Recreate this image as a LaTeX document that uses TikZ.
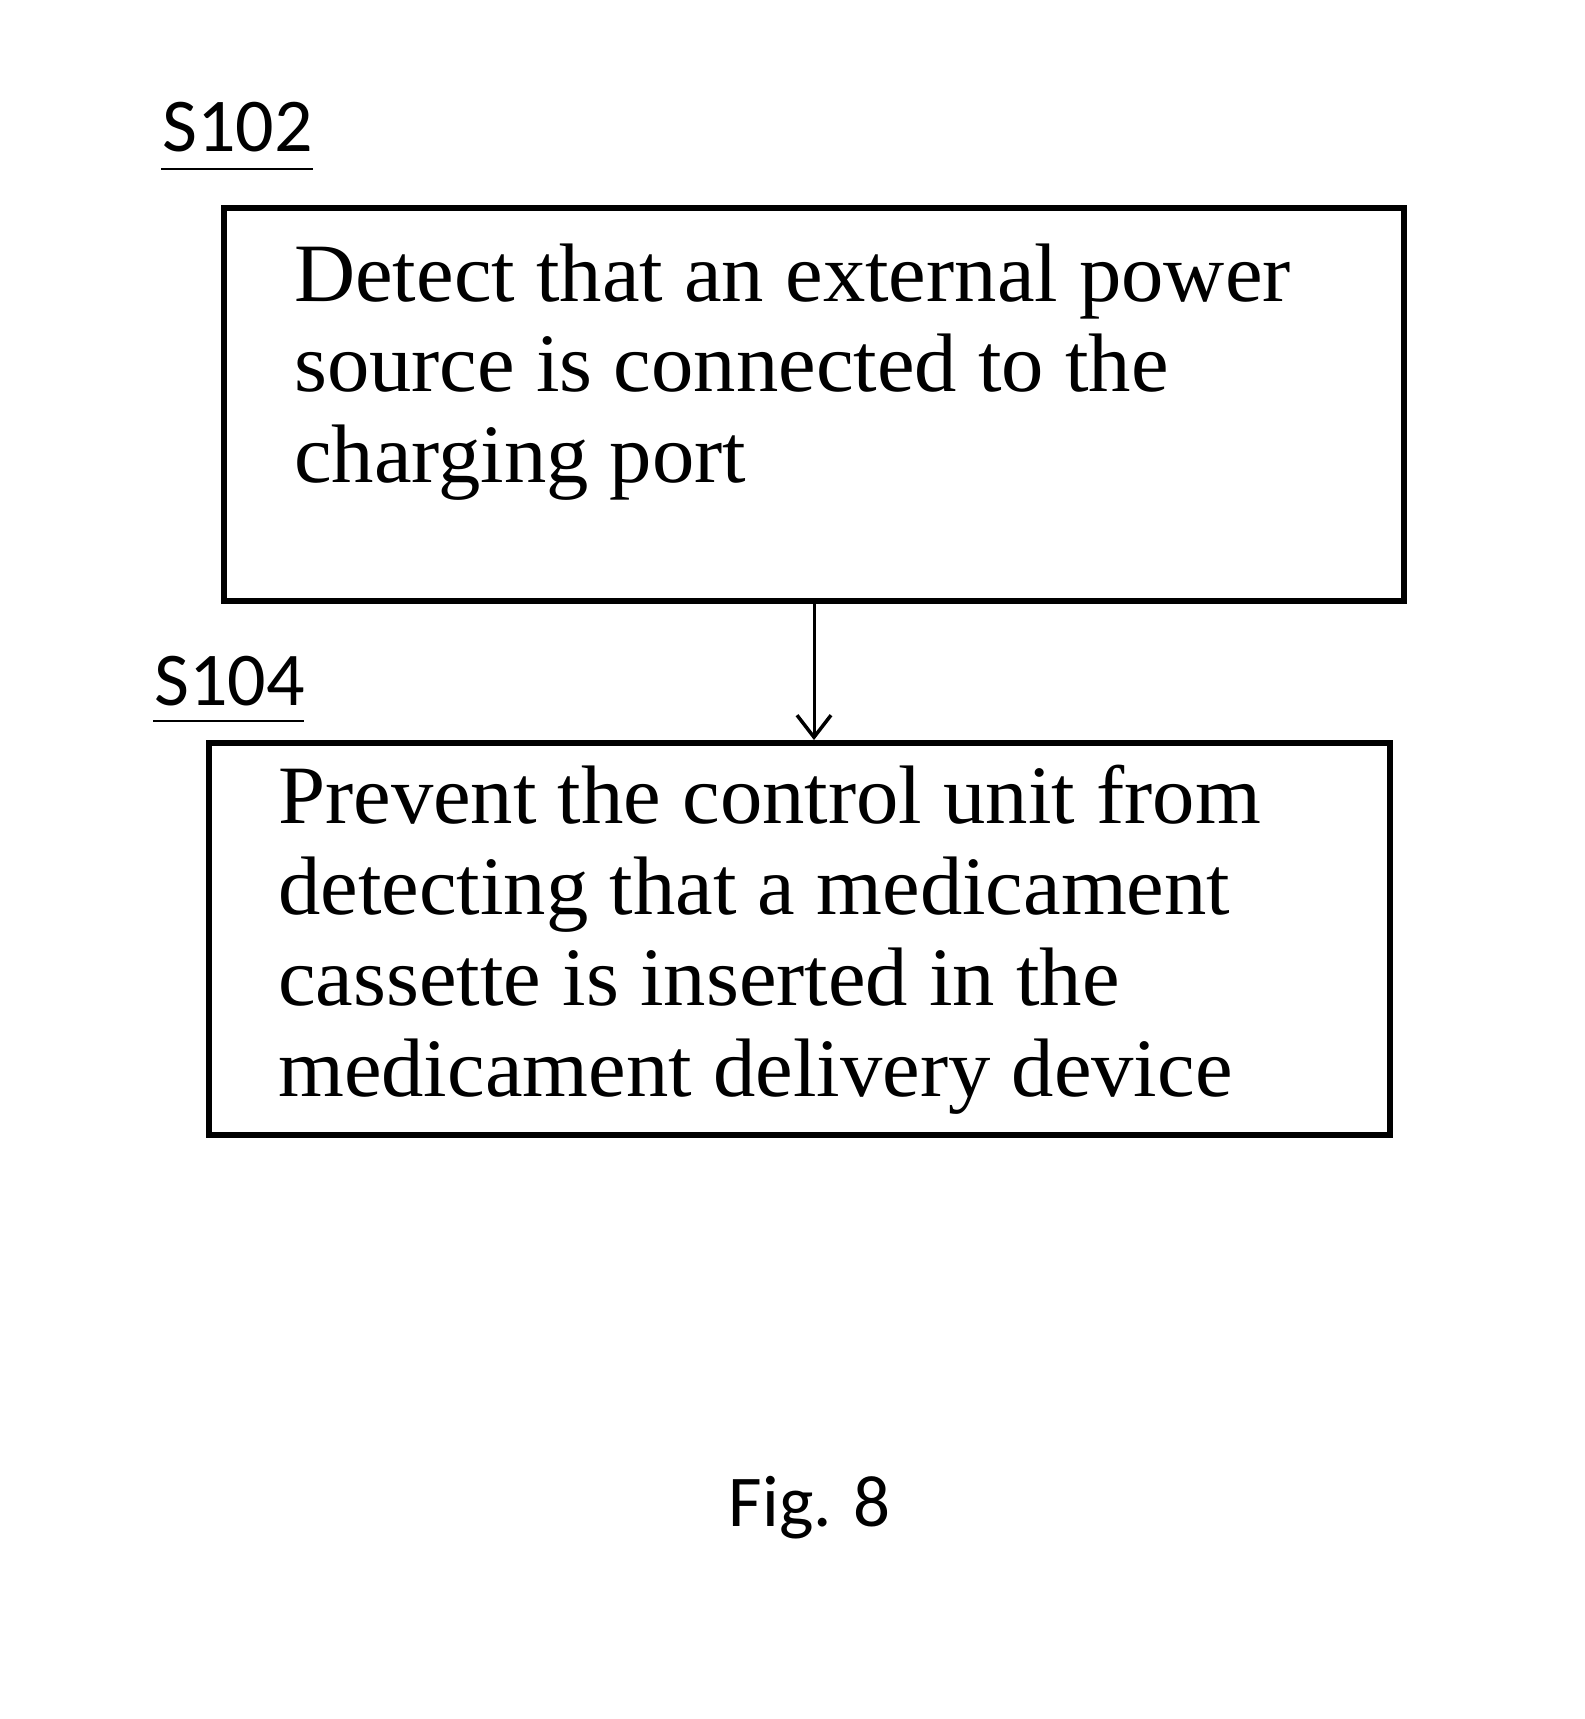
\documentclass[tikz,border=0pt]{standalone}
\usepackage{fontspec}
\setmainfont{Liberation Serif}[FakeStretch=1.02]
\newfontfamily\labelfont{Carlito}
\usetikzlibrary{arrows.meta}
\tikzset{
  x=1pt, y=-1pt,
  stepbox/.style={draw, line width=6pt, inner sep=0pt, rectangle},
  boxtext/.style={anchor=base west, inner sep=0pt, align=left,
    font=\fontsize{83}{90.7}\selectfont},
  steplabel/.style={anchor=base west, inner sep=0pt, font=\labelfont\fontsize{76}{80}\selectfont},
  ulinestyle/.style={line width=2.3pt},
  flow/.style={line width=3pt, -{Straight Barb[length=22pt,width=34pt,line width=3.5pt]}}
}
\begin{document}
\begin{tikzpicture}
\useasboundingbox (0,0) rectangle (1585,1719);
\node[stepbox, minimum width=1180pt, minimum height=393pt] (b1) at (814,404.4) {};
\node[stepbox, minimum width=1181pt, minimum height=391.5pt] (b2) at (799.7,938.8) {};
% anchored at the baseline of the last line
\node[boxtext] (t1) at (294,482.4) {Detect that an external power\\source is connected to the\\charging port};
\node[boxtext] (t2) at (278,1096) {Prevent the control unit from\\detecting that a medicament\\cassette is inserted in the\\medicament delivery device};
\node[steplabel] (l1) at (162,151) {S102};
\node[steplabel] (l2) at (154,705) {S104};
\coordinate (u1a) at (161,169);
\coordinate (u1b) at (313,169);
\coordinate (u2a) at (153,721);
\coordinate (u2b) at (304,721);
\draw[ulinestyle] (u1a) -- (u1b);
\draw[ulinestyle] (u2a) -- (u2b);
\coordinate (ax) at (814,0);
\draw[flow] (b1.south -| ax) -- (b2.north -| ax);
\node[anchor=base, inner sep=0pt, font=\labelfont\fontsize{73}{80}\selectfont] (fig) at (810,1526) {Fig. 8};
\end{tikzpicture}
\end{document}
